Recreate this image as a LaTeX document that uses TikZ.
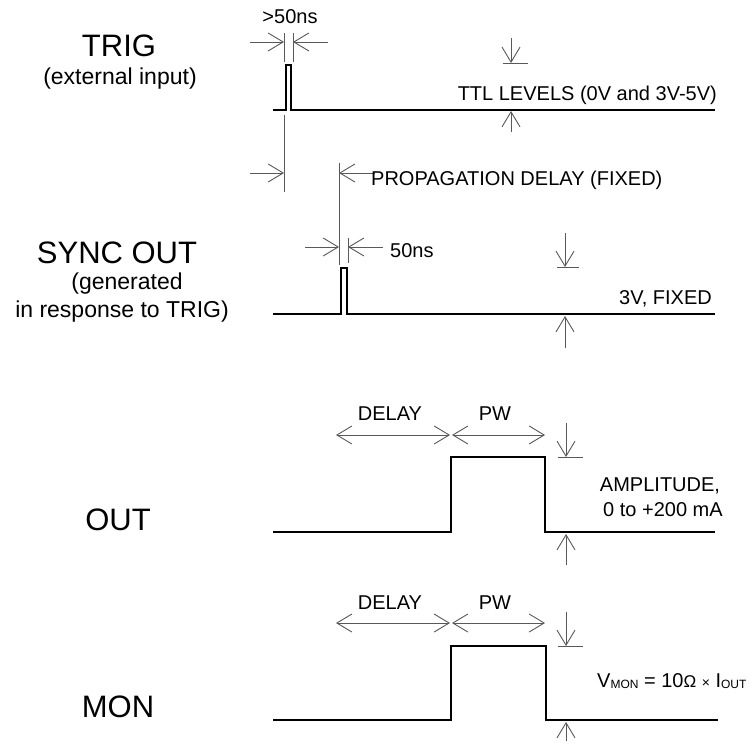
\documentclass[tikz,border=0pt]{standalone}
\usepackage{fontspec}
\setmainfont{Liberation Sans}
\usetikzlibrary{arrows.meta}
\newcommand{\fsz}[1]{\fontsize{#1}{#1}\selectfont}
\tikzset{
  wave/.style={line width=2.8pt, line join=miter},
  dim/.style={draw=black!65, line width=0.9pt},
  barb/.tip={Straight Barb[length=15pt,width=18pt]},
  dimarrow/.style={dim, -barb},
  dimboth/.style={dim, barb-barb},
  biglabel/.style={inner sep=0pt, anchor=base, font=\fsz{31}},
  sublabel/.style={inner sep=0pt, anchor=base, font=\fsz{23}},
  note/.style={inner sep=0pt, font=\fsz{20}},
}
\begin{document}
\begin{tikzpicture}[x=1pt,y=-1pt]
\path[fill=white] (0,0) rectangle (756,749);
\useasboundingbox (0,0) rectangle (756,749);

% ---------------- labels on the left
\node[biglabel] (trig) at (119,57) {TRIG};
\node[sublabel] (trigsub) at (120,85) {(external input)};
\node[biglabel] (sync) at (117,263) {SYNC OUT};
\node[sublabel] (syncsub1) at (127,290) {(generated};
\node[sublabel] (syncsub2) at (122,317) {in response to TRIG)};
\node[biglabel] (outl) at (118,530) {OUT};
\node[biglabel] (monl) at (118,717) {MON};

% ---------------- TRIG waveform
\draw[wave] (273,110) -- (286,110) -- (286,65) -- (291,65) -- (291,110) -- (715,110);
% >50ns
\draw[dim] (284,33) -- (284,62);
\draw[dim] (293,33) -- (293,62);
\coordinate (t50a) at (250,42); \coordinate (t50b) at (284,42);
\coordinate (t50c) at (328,42); \coordinate (t50d) at (293,42);
\draw[dimarrow] (t50a) -- (t50b);
\draw[dimarrow] (t50c) -- (t50d);
\node[note] (gt50) at (290,17) {>50ns};
% TTL levels
\coordinate (ttla) at (511,38); \coordinate (ttlb) at (511,63);
\coordinate (ttlc) at (511,132); \coordinate (ttld) at (511,111);
\draw[dimarrow] (ttla) -- (ttlb);
\draw[dim] (503,63) -- (528,63);
\draw[dimarrow] (ttlc) -- (ttld);
\node[note, anchor=base east] (ttl) at (717,101) {TTL LEVELS (0V and 3V-5V)};

% ---------------- propagation delay
\draw[dim] (284,115) -- (284,192);
\draw[dim] (339,163) -- (339,265);
\coordinate (pda) at (250,173); \coordinate (pdb) at (284,173);
\coordinate (pdc) at (375,173); \coordinate (pdd) at (339,173);
\draw[dimarrow] (pda) -- (pdb);
\draw[dimarrow] (pdc) -- (pdd);
\node[note, anchor=base west] (pd) at (371,186) {PROPAGATION DELAY (FIXED)};

% ---------------- SYNC OUT waveform
\draw[wave] (273,314) -- (341,314) -- (341,268) -- (347,268) -- (347,314) -- (715,314);
\draw[dim] (348,238) -- (348,263);
\coordinate (s50a) at (305,247); \coordinate (s50b) at (339,247);
\coordinate (s50c) at (383,247); \coordinate (s50d) at (348,247);
\draw[dimarrow] (s50a) -- (s50b);
\draw[dimarrow] (s50c) -- (s50d);
\node[note, anchor=base west] (n50) at (390,258) {50ns};
% 3V fixed
\coordinate (sva) at (565,233); \coordinate (svb) at (565,267);
\coordinate (svc) at (565,348); \coordinate (svd) at (565,316);
\draw[dimarrow] (sva) -- (svb);
\draw[dim] (557,267) -- (579,267);
\draw[dimarrow] (svc) -- (svd);
\node[note, anchor=base east] (v3) at (712,305) {3V, FIXED};

% ---------------- OUT waveform
\draw[wave] (273,532) -- (451,532) -- (451,457) -- (545,457) -- (545,532) -- (715,532);
\coordinate (oda) at (336,435); \coordinate (odb) at (450,435);
\coordinate (opa) at (452,435); \coordinate (opb) at (545,435);
\draw[dimboth] (oda) -- (odb);
\draw[dimboth] (opa) -- (opb);
\node[note, anchor=base] (odl) at (390,420) {DELAY};
\node[note, anchor=base] (opl) at (495,420) {PW};
\coordinate (oaa) at (566,423); \coordinate (oab) at (566,457);
\coordinate (oac) at (566,565); \coordinate (oad) at (566,534);
\draw[dimarrow] (oaa) -- (oab);
\draw[dim] (558,457) -- (583,457);
\draw[dimarrow] (oac) -- (oad);
\node[note, anchor=base] (amp1) at (660,491) {AMPLITUDE,};
\node[note, anchor=base] (amp2) at (663,516) {0 to +200 mA};

% ---------------- MON waveform
\draw[wave] (273,720) -- (451,720) -- (451,646) -- (546,646) -- (546,720) -- (718,720);
\coordinate (mda) at (336,623); \coordinate (mdb) at (450,623);
\coordinate (mpa) at (452,623); \coordinate (mpb) at (545,623);
\draw[dimboth] (mda) -- (mdb);
\draw[dimboth] (mpa) -- (mpb);
\node[note, anchor=base] (mdl) at (390,609) {DELAY};
\node[note, anchor=base] (mpl) at (495,609) {PW};
\coordinate (maa) at (566,612); \coordinate (mab) at (566,646);
\coordinate (mac) at (566,741); \coordinate (mad) at (566,722);
\draw[dimarrow] (maa) -- (mab);
\draw[dim] (558,646) -- (583,646);
\draw[dimarrow] (mac) -- (mad);
\node[note, anchor=base west] (vmon) at (597,687)
  {V\raisebox{-1pt}{\fsz{12}MON} = 10{\fsz{17}Ω} {\fsz{14}×} I\raisebox{-1pt}{\fsz{12}OUT}};
\end{tikzpicture}
\end{document}
